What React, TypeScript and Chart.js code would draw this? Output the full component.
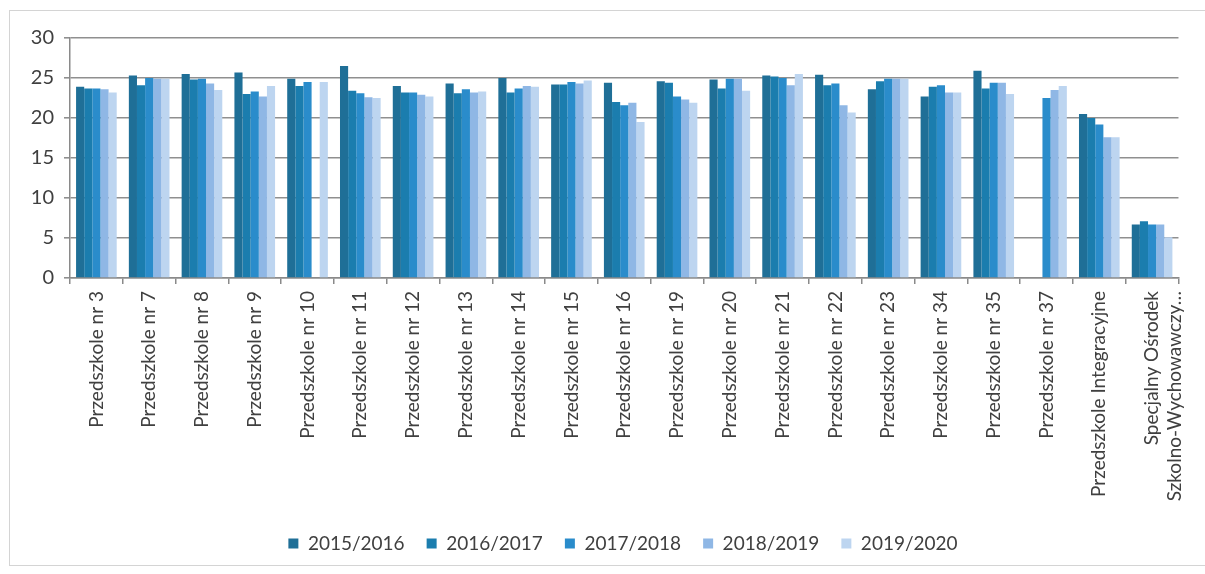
import React, { useEffect, useRef } from "react";
import { Chart, registerables } from "chart.js";

Chart.register(...registerables);

const categories: (string | string[])[] = [
  "Przedszkole nr 3",
  "Przedszkole nr 7",
  "Przedszkole nr 8",
  "Przedszkole nr 9",
  "Przedszkole nr 10",
  "Przedszkole nr 11",
  "Przedszkole nr 12",
  "Przedszkole nr 13",
  "Przedszkole nr 14",
  "Przedszkole nr 15",
  "Przedszkole nr 16",
  "Przedszkole nr 19",
  "Przedszkole nr 20",
  "Przedszkole nr 21",
  "Przedszkole nr 22",
  "Przedszkole nr 23",
  "Przedszkole nr 34",
  "Przedszkole nr 35",
  "Przedszkole nr 37",
  "Przedszkole Integracyjne",
  ["Specjalny Ośrodek", "Szkolno-Wychowawczy…"],
];

const seriesNames = ["2015/2016", "2016/2017", "2017/2018", "2018/2019", "2019/2020"];

const y2015: (number | null)[] = [23.9, 25.3, 25.5, 25.7, 24.9, 26.5, 24.0, 24.3, 25.0, 24.2, 24.4, 24.6, 24.8, 25.3, 25.4, 23.6, 22.7, 25.9, null, 20.5, 6.7];
const y2016: (number | null)[] = [23.7, 24.1, 24.8, 23.0, 24.0, 23.4, 23.2, 23.1, 23.2, 24.2, 22.0, 24.4, 23.7, 25.2, 24.1, 24.6, 23.9, 23.7, null, 20.0, 7.1];
const y2017: (number | null)[] = [23.7, 25.0, 24.9, 23.3, 24.5, 23.1, 23.2, 23.6, 23.7, 24.5, 21.6, 22.7, 24.9, 25.0, 24.3, 24.9, 24.1, 24.4, 22.5, 19.2, 6.7];
const y2018: (number | null)[] = [23.6, 24.9, 24.3, 22.7, null, 22.6, 22.9, 23.2, 24.0, 24.3, 21.9, 22.3, 24.9, 24.1, 21.6, 24.9, 23.2, 24.4, 23.5, 17.6, 6.7];
const y2019: (number | null)[] = [23.2, 24.9, 23.5, 24.0, 24.5, 22.5, 22.7, 23.3, 23.9, 24.7, 19.5, 21.9, 23.4, 25.5, 20.7, 24.9, 23.2, 23.0, 24.0, 17.6, 5.1];

const seriesValues = [y2015, y2016, y2017, y2018, y2019];
const seriesColors = ["#1f6f97", "#1b7dae", "#2a8ccb", "#8fb7e5", "#bdd5f0"];

const yTicks = [0, 5, 10, 15, 20, 25, 30];

const FONT = "Lato, 'Open Sans', sans-serif";
const TEXT = "#404040";

const legendShift = {
  id: "legendShift",
  afterLayout(chart: any) {
    const lg = chart.legend;
    if (lg) {
      lg.left += 23;
      lg.right += 23;
    }
  },
};

export default function App() {
  const canvasRef = useRef<HTMLCanvasElement | null>(null);

  useEffect(() => {
    if (!canvasRef.current) return;
    const chart = new Chart(canvasRef.current, {
      type: "bar",
      data: {
        labels: categories as any,
        datasets: seriesNames.map((name, i) => ({
          label: name,
          data: seriesValues[i],
          backgroundColor: seriesColors[i],
          borderWidth: 0,
          categoryPercentage: 0.77,
          barPercentage: 1.0,
        })),
      },
      plugins: [legendShift],
      options: {
        animation: false,
        responsive: false,
        maintainAspectRatio: false,
        layout: { padding: { left: 8, right: 13, top: 38, bottom: 11 } },
        plugins: {
          legend: {
            position: "bottom",
            labels: {
              color: TEXT,
              font: { family: FONT, size: 19 },
              boxWidth: 10,
              boxHeight: 10,
              padding: 22,
            },
          },
          tooltip: { enabled: false },
        },
        scales: {
          x: {
            grid: {
              drawOnChartArea: false,
              drawTicks: true,
              tickLength: 6,
              color: "#8a8a8a",
              lineWidth: 1.5,
            },
            border: { color: "#8a8a8a", width: 1.5 },
            ticks: {
              color: TEXT,
              font: { family: FONT, size: 19 },
              minRotation: 90,
              maxRotation: 90,
              autoSkip: false,
              padding: 7,
            },
            afterFit: (scale: any) => {
              scale.height = 234;
            },
          },
          y: {
            min: 0,
            max: 30,
            afterBuildTicks: (scale: any) => {
              scale.ticks = yTicks.map((v) => ({ value: v }));
            },
            grid: {
              color: "#8f8f8f",
              lineWidth: 1.6,
              drawTicks: true,
              tickLength: 6,
            },
            border: { color: "#8a8a8a", width: 1.5 },
            ticks: {
              color: TEXT,
              font: { family: FONT, size: 20 },
              padding: 10,
            },
            afterFit: (scale: any) => {
              scale.width = 62;
            },
          },
        },
      },
    });
    return () => chart.destroy();
  }, []);

  return (
    <div
      style={{
        position: "fixed",
        left: 0,
        top: 0,
        width: 1205,
        height: 574,
        background: "#ffffff",
        overflow: "hidden",
      }}
    >
      <div
        style={{
          position: "absolute",
          left: 9,
          top: 10,
          width: 1205,
          height: 556,
          border: "1px solid #d4d4d4",
          boxSizing: "border-box",
        }}
      />
      <canvas
        ref={canvasRef}
        width={1205}
        height={574}
        style={{ position: "absolute", left: 0, top: 0, width: 1205, height: 574 }}
      />
    </div>
  );
}
